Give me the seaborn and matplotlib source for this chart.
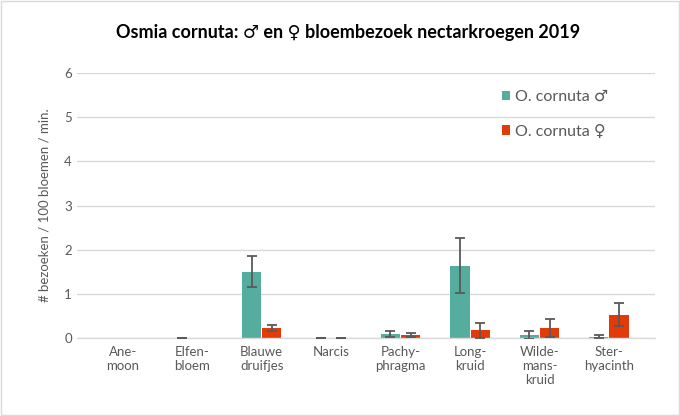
import numpy as np
import pandas as pd
import matplotlib
matplotlib.use("Agg")
import matplotlib.pyplot as plt
import seaborn as sns

# ---------------- DATA ----------------
categories = ["Ane-\nmoon", "Elfen-\nbloem", "Blauwe\ndruifjes", "Narcis",
              "Pachy-\nphragma", "Long-\nkruid", "Wilde-\nmans-\nkruid", "Ster-\nhyacinth"]
series = ["O. cornuta \u2642", "O. cornuta \u2640"]
male_values = [0, 0, 1.50, 0, 0.09, 1.64, 0.07, 0.03]
female_values = [0, 0, 0.23, 0, 0.07, 0.18, 0.23, 0.53]
male_err = [np.nan, 0, 0.35, 0, 0.07, 0.63, 0.09, 0.03]
female_err = [np.nan, np.nan, 0.07, 0, 0.05, 0.17, 0.20, 0.26]
colors = ["#55ADA0", "#E23A08"]

df = pd.DataFrame({
    "cat": categories * 2,
    "sex": [series[0]] * len(categories) + [series[1]] * len(categories),
    "value": male_values + female_values,
})

sns.set_theme(style="white")
plt.rcParams["font.family"] = ["Lato", "DejaVu Sans"]

fig = plt.figure(figsize=(6.8, 4.16), dpi=100)
ax = fig.add_axes([0.113, 0.1875, 0.850, 0.637])

sns.barplot(data=df, x="cat", y="value", hue="sex", hue_order=series,
            palette=colors, width=0.58, gap=0.05, linewidth=0,
            errorbar=None, ax=ax, saturation=1)

# ---------------- ERROR BARS ----------------
for container, errs in zip(ax.containers, [male_err, female_err]):
    for bar, e in zip(container, errs):
        if np.isnan(e):
            continue
        x = bar.get_x() + bar.get_width() / 2
        ax.errorbar(x, bar.get_height(), yerr=e, fmt="none",
                    ecolor="#595959", elinewidth=1.3, capsize=3.5,
                    capthick=1.3, zorder=5)

ax.set_ylim(0, 6)
ax.set_yticks(range(0, 7))
ax.yaxis.grid(True, color="#d9d9d9", linewidth=1)
ax.set_axisbelow(True)
for s in ["top", "right", "left"]:
    ax.spines[s].set_visible(False)
ax.spines["bottom"].set_color("#d9d9d9")
ax.spines["bottom"].set_linewidth(1)
ax.tick_params(axis="both", length=0, labelsize=9.5, colors="#595959")
ax.tick_params(axis="x", pad=6)
ax.set_xlabel("")
ax.set_ylabel("# bezoeken / 100 bloemen / min.", fontsize=9.5, color="#595959", labelpad=10)

fig.text(0.512, 0.923, "Osmia cornuta: \u2642 en \u2640 bloembezoek nectarkroegen 2019",
         ha="center", va="center", fontsize=13, fontweight="bold", color="#000000")

ax.legend(loc="upper left", bbox_to_anchor=(0.71, 0.99), frameon=False,
          fontsize=11.5, labelspacing=1.3, handlelength=0.55, handleheight=0.55,
          handletextpad=0.3, labelcolor="#595959")

fig.patches.append(plt.Rectangle((0.001, 0.002), 0.997, 0.995, transform=fig.transFigure,
                                 fill=False, edgecolor="#d9d9d9", linewidth=1))

fig.savefig("out.png", dpi=100)
